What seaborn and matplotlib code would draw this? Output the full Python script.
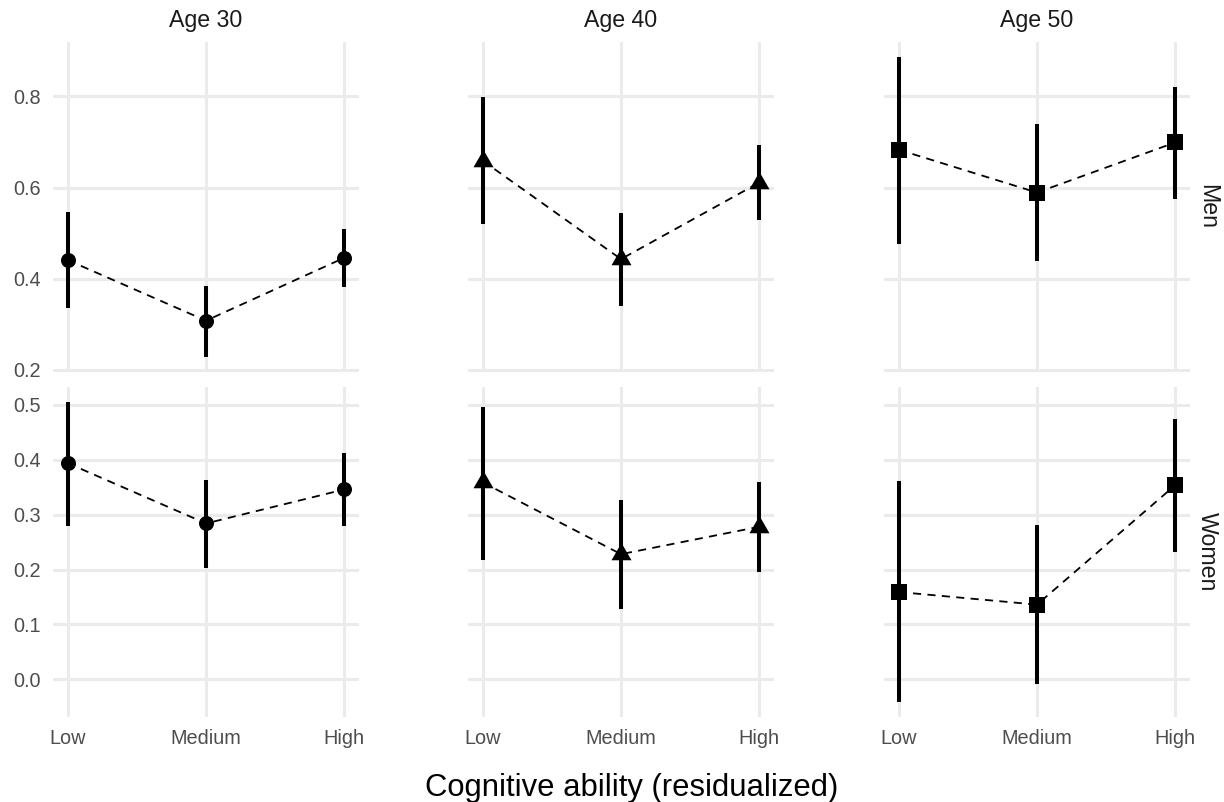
import numpy as np
import pandas as pd
import matplotlib
matplotlib.use("Agg")
import matplotlib.pyplot as plt
import seaborn as sns

# ---------------- data ----------------
levels = ["Low", "Medium", "High"]
ages = ["Age 30", "Age 40", "Age 50"]
sexes = ["Men", "Women"]

men30_est = [0.441, 0.308, 0.446]
men30_lo = [0.335, 0.229, 0.382]
men30_hi = [0.547, 0.385, 0.509]
men40_est = [0.659, 0.443, 0.611]
men40_lo = [0.520, 0.341, 0.528]
men40_hi = [0.798, 0.545, 0.693]
men50_est = [0.683, 0.589, 0.699]
men50_lo = [0.477, 0.438, 0.575]
men50_hi = [0.887, 0.739, 0.821]

women30_est = [0.394, 0.284, 0.346]
women30_lo = [0.279, 0.203, 0.279]
women30_hi = [0.506, 0.363, 0.412]
women40_est = [0.359, 0.228, 0.278]
women40_lo = [0.217, 0.128, 0.195]
women40_hi = [0.497, 0.327, 0.359]
women50_est = [0.159, 0.136, 0.354]
women50_lo = [-0.041, -0.009, 0.232]
women50_hi = [0.361, 0.282, 0.474]

y_ticks_men = [0.2, 0.4, 0.6, 0.8]
y_ticks_women = [0.0, 0.1, 0.2, 0.3, 0.4, 0.5]

series = {
    ("Men", "Age 30"): (men30_est, men30_lo, men30_hi),
    ("Men", "Age 40"): (men40_est, men40_lo, men40_hi),
    ("Men", "Age 50"): (men50_est, men50_lo, men50_hi),
    ("Women", "Age 30"): (women30_est, women30_lo, women30_hi),
    ("Women", "Age 40"): (women40_est, women40_lo, women40_hi),
    ("Women", "Age 50"): (women50_est, women50_lo, women50_hi),
}

rows = []
for (sex, age), (est, lo, hi) in series.items():
    for i, lev in enumerate(levels):
        rows.append(dict(sex=sex, age=age, level=lev, x=i,
                         est=est[i], lo=lo[i], hi=hi[i]))
df = pd.DataFrame(rows)

# ---------------- style ----------------
sns.set_theme(style="white")
plt.rcParams["font.family"] = ["Liberation Sans", "DejaVu Sans"]

tri = [(0, 1.555), (1.347, -0.778), (-1.347, -0.778)]
markers = {"Age 30": "o", "Age 40": tri, "Age 50": "s"}
msizes = {"Age 30": 117, "Age 40": 277, "Age 50": 135}

GRID = "#EBEBEB"
DPI = 100
fig = plt.figure(figsize=(12.24, 8.02), dpi=DPI)

W, H = 1224, 802
col_left = [53, 468, 884]
col_w = 306
row_top = [41.7, 386.7]
row_h = 330

ticks_by_sex = {"Men": y_ticks_men, "Women": y_ticks_women}

for r, sex in enumerate(sexes):
    sub_sex = df[df.sex == sex]
    lo_all, hi_all = sub_sex.lo.min(), sub_sex.hi.max()
    pad = 0.05 * (hi_all - lo_all)
    for c, age in enumerate(ages):
        ax = fig.add_axes([col_left[c] / W, 1 - (row_top[r] + row_h) / H,
                           col_w / W, row_h / H])
        sub = sub_sex[sub_sex.age == age]
        # grid
        for yt in ticks_by_sex[sex]:
            ax.axhline(yt, color=GRID, lw=2.2, zorder=0)
        for xt in range(len(levels)):
            ax.axvline(xt, color=GRID, lw=2.2, zorder=0)
        # error bars
        ax.vlines(sub.x, sub.lo, sub.hi, color="black", lw=2.9, zorder=2)
        # dashed line
        sns.lineplot(data=sub, x="x", y="est", ax=ax, color="black",
                     lw=1.3, linestyle=(0, (4.5, 3.5)), zorder=3,
                     estimator=None, sort=False)
        # markers
        sns.scatterplot(data=sub, x="x", y="est", ax=ax, color="black",
                        marker=markers[age], s=msizes[age], linewidth=0,
                        zorder=4)
        ax.set_xlim(-0.106, 2.106)
        ax.set_ylim(lo_all - pad, hi_all + pad)
        for sp in ax.spines.values():
            sp.set_visible(False)
        ax.set_xlabel("")
        ax.set_ylabel("")
        ax.set_yticks(ticks_by_sex[sex])
        ax.tick_params(axis="both", length=0, labelsize=14.3,
                       labelcolor="#4D4D4D")
        ax.tick_params(axis="y", pad=8.5)
        ax.tick_params(axis="x", pad=9)
        if c == 0:
            ax.set_yticklabels([f"{t:.1f}" for t in ticks_by_sex[sex]])
        else:
            ax.set_yticklabels([])
        ax.set_xticks(range(len(levels)))
        if r == 1:
            ax.set_xticklabels(levels)
        else:
            ax.set_xticklabels([])
        if r == 0:
            ax.annotate(age, xy=(0.5, 1), xycoords="axes fraction",
                        xytext=(0, 15.5), textcoords="offset points",
                        ha="center", va="center", fontsize=16.7,
                        color="#1A1A1A")
        if c == 2:
            ax.annotate(sex, xy=(1, 0.5), xycoords="axes fraction",
                        xytext=(12.5, 0), textcoords="offset points",
                        ha="center", va="center", fontsize=16.7,
                        rotation=-90, color="#1A1A1A")

fig.text(632 / W, 1 - 788 / H, "Cognitive ability (residualized)",
         ha="center", va="center", fontsize=22.3, color="black")

fig.savefig("out.png", dpi=DPI, facecolor="white")
